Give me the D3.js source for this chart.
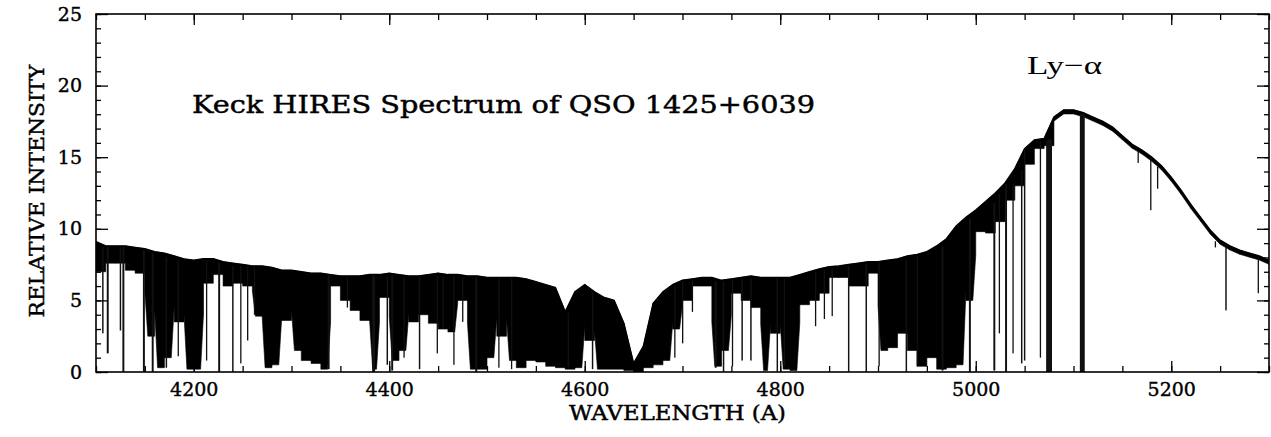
<!DOCTYPE html>
<html><head><meta charset="utf-8">
<script src="https://cdn.jsdelivr.net/npm/d3@7"></script>
<style>body{margin:0;background:#fff}</style>
</head><body>
<svg id="chart" width="1271" height="437"></svg>
<script>
// ---------- text ----------
const titleText = "Keck HIRES Spectrum of QSO 1425+6039";
const lineLabel = "Ly\u2212\u03b1";
const xLabelText = "WAVELENGTH (A)";
const yLabelText = "RELATIVE INTENSITY";
const xTickLabels = [4200, 4400, 4600, 4800, 5000, 5200];
const yTickLabels = [0, 5, 10, 15, 20, 25];

// ---------- data ----------
// wavelength nodes (Å) of the upper flux envelope
const nodeWave = [
 4100,4110,4120,4130,4140,4150,4160,4170,4180,4190,
 4200,4210,4220,4230,4240,4250,4260,4270,4280,4290,
 4300,4310,4320,4330,4340,4350,4360,4370,4380,4390,
 4400,4410,4420,4430,4440,4450,4460,4470,4480,4490,
 4500,4510,4520,4530,4540,4550,4560,4570,4580,4590,
 4600,4610,4620,4630,4640,4650,4660,4670,4680,4690,
 4700,4710,4720,4730,4740,4750,4760,4770,4780,4790,
 4800,4810,4820,4830,4840,4850,4860,4870,4880,4890,
 4900,4910,4920,4930,4940,4950,4960,4970,4980,4990,
 5000,5010,5020,5030,5040,5050,5060,5070,5080,5090,
 5100,5110,5120,5130,5140,5150,5160,5170,5180,5190,
 5200,5210,5220,5230,5240,5250,5260,5270,5280,5290,
 5300];
// upper envelope of relative intensity at each node
const upperFlux = [
 9.1,8.8,8.8,8.8,8.7,8.6,8.4,8.3,8.1,7.9,
 7.8,7.9,7.9,7.7,7.6,7.5,7.4,7.4,7.3,7.1,
 7.1,7.0,6.9,6.9,6.8,6.7,6.7,6.7,6.8,6.8,
 6.9,6.8,6.7,6.7,6.8,6.9,6.8,6.8,6.7,6.7,
 6.6,6.6,6.6,6.6,6.5,6.3,6.1,5.9,4.2,5.6,
 6.1,5.6,5.2,5.0,3.4,0.6,1.8,4.8,5.6,6.1,
 6.4,6.5,6.6,6.6,6.4,6.5,6.6,6.7,6.6,6.6,
 6.6,6.6,6.8,7.0,7.2,7.35,7.4,7.5,7.6,7.7,
 7.7,7.8,7.9,8.1,8.2,8.4,8.8,9.3,10.2,10.8,
 11.3,11.9,12.5,13.2,14.2,15.6,16.2,16.3,17.8,18.3,
 18.3,18.1,17.8,17.5,17.1,16.5,15.9,15.5,15.0,14.4,
 13.6,12.7,11.7,10.8,9.9,9.2,8.8,8.5,8.3,8.1,
 7.8];
// lowest level reached by the dense Ly-alpha forest inside each 10 Å interval
// (null = no forest, only the continuum trace)
const forestFloor = [
 7.0,7.6,7.6,7.1,6.9,2.5,0.3,1.0,3.5,0.2,
 0.2,6.2,6.8,6.0,6.2,6.0,3.9,0.3,0.5,3.6,
 1.5,0.8,0.6,0.2,6.0,5.0,4.3,3.6,0.2,5.2,
 0.8,1.5,3.5,4.0,3.4,3.0,2.8,5.0,0.2,0.2,
 1.0,2.5,0.8,0.3,0.8,0.7,0.4,0.3,0.2,0.3,
 2.2,0.2,0.2,0.2,0.1,0.0,0.3,0.5,0.8,3.0,
 5.0,6.0,6.0,0.4,1.5,5.5,5.0,4.5,0.1,2.7,
 0.2,0.1,4.7,5.0,5.5,6.6,6.6,6.0,6.0,6.9,
 1.5,1.7,2.7,1.5,0.4,1.0,0.2,0.3,0.5,5.0,
 9.8,9.7,10.5,12.0,13.0,14.5,15.6,15.8,null,null,
 null,null,null,null,null,null,null,null,null,null,
 null,null,null,null,null,null,null,null,null,null];
// isolated absorption lines: centre (Å), minimum intensity, width (Å)
const lineWave = [4107,4112,4125,4128,4149,4158,4172,4184,4213,4226,4240,4248,4255,4262,4338,4357,4384,4398,
 4403,4415,4431,4449,4455,4466,4475,4489,4512,4525,4583,4608,4692,4700,
 4710,4734,4742,4751,4761,4770,4797,4804,4836,4845,4853,4870,4888,4901,4929,4940,4966,4994,
 5019,5024,5031,5038,5047,5050,5066,5075,5109,5166,5179,5186,5245,5256,5289];
const lineMin = [2.7,1.3,2.9,0.0,0.0,0.0,0.3,1.1,0.8,0.0,0.0,0.6,2.2,4.0,0.2,4.5,0.0,0.5,
 0.1,1.0,0.2,1.3,3.0,0.5,3.5,0.0,0.3,0.2,0.3,0.2,1.0,2.0,
 4.2,0.3,0.0,0.4,0.8,0.8,0.0,0.4,3.2,3.7,3.9,0.0,0.0,0.4,0.0,0.4,0.1,0.0,
 0.1,2.7,0.0,1.3,0.6,0.8,1.0,0.0,0.0,14.6,11.3,12.8,8.7,4.3,5.5];
const lineWidth = [1.5,2,1.5,2,2,2,1.5,1,1,2,1.5,1,1,1,2,1,3,1.5,
 2,1,1.5,1,1,1,1,2,1,1,1,1.5,1,1,
 1,2,1.5,1,1.5,1.5,1.5,1,1,1,1,1.5,1.5,1,1.5,1,2,2,
 2,1,2,1,1.5,1.5,1,6,5,1,1.2,1.2,1,1.5,1.2];

// ---------- layout ----------
const svg = d3.select("#chart");
const L = 96, R = 1269, T = 14, B = 372;
const x = d3.scaleLinear().domain([4100, 5300]).range([L, R]);
const y = d3.scaleLinear().domain([0, 25]).range([B, T]);
const traceThick = 4; // px

svg.append("clipPath").attr("id","clip").append("rect")
  .attr("x", L).attr("y", T).attr("width", R - L).attr("height", B - T);
const plot = svg.append("g").attr("clip-path","url(#clip)");

// forest / continuum band; a trough tapers on a side whose neighbour is shallower
const floorOf = i => (i < 0 || i >= forestFloor.length || forestFloor[i] === null) ? 99 : forestFloor[i];
let d = "";
for (let i = 0; i < nodeWave.length - 1; i++) {
  const x0 = x(nodeWave[i]), x1 = x(nodeWave[i+1]);
  const t0 = y(upperFlux[i]), t1 = y(upperFlux[i+1]);
  const f = forestFloor[i];
  const b0 = f === null ? t0 + traceThick : Math.max(y(f), t0 + traceThick);
  const b1 = f === null ? t1 + traceThick : Math.max(y(f), t1 + traceThick);
  const deep = Math.min(b0 - t0, b1 - t1) > 30;
  const w = x1 - x0;
  const tapL = deep && floorOf(i - 1) > f + 1.2;
  const tapR = deep && floorOf(i + 1) > f + 1.2;
  const m0 = t0 + (b0 - t0) * 0.5, m1 = t1 + (b1 - t1) * 0.5;
  const xl = tapL ? x0 + w * 0.3 : x0, xr = tapR ? x1 - w * 0.3 : x1;
  d += `M${x0},${t0}L${x1},${t1}` +
       (tapR ? `L${x1},${m1}` : "") + `L${xr},${b1}L${xl},${b0}` +
       (tapL ? `L${x0},${m0}` : "") + "Z";
}
plot.append("path").attr("d", d).attr("fill", "#000").attr("stroke", "#000").attr("stroke-width", 0.6);
plot.append("path")
  .datum(nodeWave.map((w, i) => [w, upperFlux[i]]))
  .attr("fill", "none").attr("stroke", "#000").attr("stroke-width", 1.5)
  .attr("d", d3.line().x(p => x(p[0])).y(p => y(p[1])));

// absorption lines
const bisect = d3.bisector(w => w).right;
const topAt = w => { const k = Math.min(nodeWave.length - 2, Math.max(0, bisect(nodeWave, w) - 1));
                     return y(Math.min(upperFlux[k], upperFlux[k+1])) + 1; };
plot.selectAll("rect.abs").data(lineWave.map((w, i) => ({w, m: lineMin[i], wd: lineWidth[i]})))
  .enter().append("rect").attr("class","abs")
  .attr("x", p => x(p.w - p.wd / 2))
  .attr("width", p => Math.max(1.3, x(p.w + p.wd / 2) - x(p.w - p.wd / 2)))
  .attr("y", p => topAt(p.w))
  .attr("height", p => Math.max(0, y(p.m) - topAt(p.w)))
  .attr("fill", "#111");

// ---------- axes ----------
const font = "'DejaVu Serif', serif";
const xMinor = d3.range(4100, 5301, 50);
const yMinor = d3.range(0, 26, 1);
function styleAxis(g) {
  g.select(".domain").remove();
  g.selectAll("line").attr("stroke", "#000").attr("stroke-width", 1.3);
  g.selectAll("text").attr("font-family", font).attr("font-size", 19).attr("fill", "#000")
    .attr("stroke", "#000").attr("stroke-width", 0.4);
}
svg.append("g").attr("transform", `translate(0,${B})`)
  .call(d3.axisBottom(x).tickValues(xMinor).tickSize(-6).tickFormat("")).call(styleAxis);
svg.append("g").attr("transform", `translate(0,${B})`)
  .call(d3.axisBottom(x).tickValues(xTickLabels).tickSize(-11).tickPadding(11).tickFormat(d3.format("d"))).call(styleAxis);
svg.append("g").attr("transform", `translate(0,${T})`)
  .call(d3.axisTop(x).tickValues(xMinor).tickSize(-6).tickFormat("")).call(styleAxis);
svg.append("g").attr("transform", `translate(0,${T})`)
  .call(d3.axisTop(x).tickValues(xTickLabels).tickSize(-11).tickFormat("")).call(styleAxis);
svg.append("g").attr("transform", `translate(${L},0)`)
  .call(d3.axisLeft(y).tickValues(yMinor).tickSize(-5).tickFormat("")).call(styleAxis);
svg.append("g").attr("transform", `translate(${L},0)`)
  .call(d3.axisLeft(y).tickValues(yTickLabels).tickSize(-12).tickPadding(14).tickFormat(d3.format("d"))).call(styleAxis);
svg.append("g").attr("transform", `translate(${R},0)`)
  .call(d3.axisRight(y).tickValues(yMinor).tickSize(-5).tickFormat("")).call(styleAxis);
svg.append("g").attr("transform", `translate(${R},0)`)
  .call(d3.axisRight(y).tickValues(yTickLabels).tickSize(-12).tickFormat("")).call(styleAxis);

svg.append("rect").attr("x", L).attr("y", T).attr("width", R - L).attr("height", B - T)
  .attr("fill", "none").attr("stroke", "#000").attr("stroke-width", 1.6);

// ---------- labels ----------
const heavy = sel => sel.attr("stroke", "#000").attr("stroke-width", 0.45);
svg.append("text").attr("x", 192).attr("y", 113).text(titleText)
  .attr("font-family", font).attr("font-size", 24).attr("fill", "#000")
  .attr("textLength", 623).attr("lengthAdjust", "spacingAndGlyphs").call(heavy);
svg.append("text").attr("x", 1027).attr("y", 74).text(lineLabel)
  .attr("font-family", "'Liberation Serif', serif").attr("font-size", 26).attr("fill", "#000")
  .attr("textLength", 75).attr("lengthAdjust", "spacingAndGlyphs");
svg.append("text").attr("x", 569).attr("y", 420).text(xLabelText)
  .attr("font-family", font).attr("font-size", 20).attr("fill", "#000")
  .attr("textLength", 217).attr("lengthAdjust", "spacingAndGlyphs").call(heavy);
svg.append("text").attr("transform", "translate(44,191) rotate(-90)")
  .attr("text-anchor", "middle").text(yLabelText)
  .attr("font-family", font).attr("font-size", 21).attr("fill", "#000")
  .attr("textLength", 253).attr("lengthAdjust", "spacingAndGlyphs").call(heavy);
</script>
</body></html>
